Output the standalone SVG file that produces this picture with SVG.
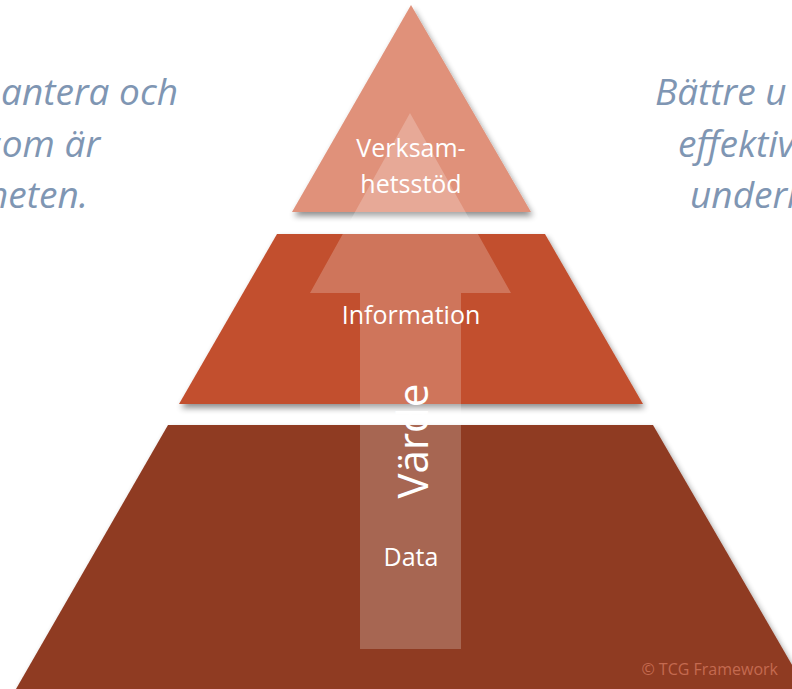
<svg xmlns="http://www.w3.org/2000/svg" width="792" height="689" viewBox="0 0 792 689">
<defs>
<filter id="sh" x="-20%" y="-20%" width="140%" height="150%">
<feGaussianBlur in="SourceAlpha" stdDeviation="3"/>
<feOffset dx="2" dy="4" result="b"/>
<feComponentTransfer><feFuncA type="linear" slope="0.45"/></feComponentTransfer>
<feMerge><feMergeNode/><feMergeNode in="SourceGraphic"/></feMerge>
</filter>
<style>
.lbl{font-family:"Open Sans","Noto Sans",sans-serif;fill:#ffffff;font-size:25px;text-anchor:middle}
.big{font-size:42px}
.side{font-family:"Open Sans","Noto Sans",sans-serif;font-style:italic;fill:#7F96B3;font-size:37px}
</style>
</defs>
<rect width="792" height="689" fill="#ffffff"/>
<g id="side-left">
<text class="side" x="178" y="105" text-anchor="end">antera och</text>
<text class="side" x="100" y="157" text-anchor="end">som är</text>
<text class="side" x="88" y="208" text-anchor="end">heten.</text>
</g>
<g id="side-right">
<text class="side" x="655" y="105">Bättre u</text>
<text class="side" x="678" y="157">effektiv</text>
<text class="side" x="690" y="208">underl</text>
</g>
<g id="level-data">
<polygon points="168,425 653,425 806,689 16,689" fill="#8F3A22" filter="url(#sh)"/>
</g>
<g id="level-information">
<polygon points="277,234 545,234 643,404 179,404" fill="#C24F2E" filter="url(#sh)"/>
</g>
<g id="level-verksamhetsstod">
<polygon points="411,5 531,212 292,212" fill="#E0917A" filter="url(#sh)"/>
</g>
<g id="connectors">
<polygon id="value-arrow" points="410,113 511,293 461,293 461,649 360,649 360,293 310,293" fill="#ffffff" fill-opacity="0.22"/>
</g>
<g id="labels">
<text class="lbl" x="411" y="157">Verksam-</text>
<text class="lbl" x="411" y="193">hetsstöd</text>
<text class="lbl" x="411" y="324">Information</text>
<text class="lbl" x="411" y="566">Data</text>
<text class="lbl big" x="428" y="441" transform="rotate(-90 428 441)">Värde</text>
</g>
<text x="778" y="675" text-anchor="end" font-family="'Open Sans','Noto Sans',sans-serif" font-size="16" fill="#C46A50">© TCG Framework</text>
</svg>
